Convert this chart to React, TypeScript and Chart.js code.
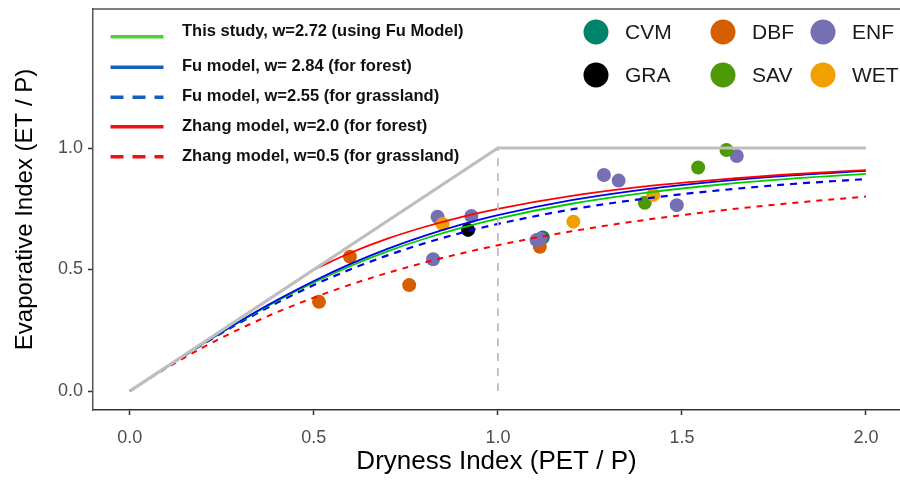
import React, { useEffect, useRef } from "react";
import { Chart, registerables } from "chart.js";

Chart.register(...registerables);

// ---- curve data ----
const curveX = [0, 0.1, 0.2, 0.3, 0.4, 0.5, 0.6, 0.7, 0.8, 0.9, 1.0, 1.2, 1.4, 1.6, 1.8, 2.0];
const thisStudyY = [0, 0.0993, 0.1954, 0.2863, 0.3704, 0.4467, 0.5147, 0.5746, 0.6266, 0.6713, 0.7098, 0.7707, 0.8155, 0.8488, 0.874, 0.8933];
const fuForestY = [0, 0.0995, 0.1964, 0.2886, 0.3745, 0.4529, 0.523, 0.5848, 0.6383, 0.6843, 0.7236, 0.7853, 0.8301, 0.8628, 0.8873, 0.9058];
const fuGrassY = [0, 0.0989, 0.1936, 0.2821, 0.3631, 0.4362, 0.5011, 0.5581, 0.6077, 0.6506, 0.6876, 0.7472, 0.7918, 0.8257, 0.8519, 0.8724];
const zhangForestX = [0.5, 0.6, 0.7, 0.8, 0.9, 1.0, 1.2, 1.4, 1.6, 1.8, 2.0];
const zhangForestY = [0.5, 0.569, 0.627, 0.675, 0.716, 0.75, 0.803, 0.842, 0.87, 0.892, 0.909];
const zhangGrassY = [0, 0.095, 0.1803, 0.2565, 0.3243, 0.3846, 0.4382, 0.4859, 0.5283, 0.5662, 0.6, 0.6575, 0.7041, 0.7423, 0.7738, 0.8];
const limitX = [0, 1, 2];
const limitY = [0, 1, 1];
const dividerX = [1, 1];
const dividerY = [0, 1];

// ---- site data ----
const groups = ["CVM", "DBF", "ENF", "GRA", "SAV", "WET"];
const groupColors = ["#00836A", "#D55E00", "#7570B3", "#000000", "#4E9A06", "#F0A000"];
const cvmX = [1.122];
const cvmY = [0.632];
const dbfX = [0.514, 0.598, 0.759, 1.114];
const dbfY = [0.367, 0.553, 0.436, 0.594];
const enfX = [0.836, 0.824, 0.928, 1.105, 1.116, 1.288, 1.328, 1.486, 1.649];
const enfY = [0.717, 0.542, 0.72, 0.621, 0.627, 0.889, 0.866, 0.765, 0.967];
const graX = [0.919];
const graY = [0.663];
const savX = [1.399, 1.544, 1.621];
const savY = [0.775, 0.92, 0.992];
const wetX = [0.85, 1.205, 1.422];
const wetY = [0.687, 0.697, 0.807];

const xTicks = [0, 0.5, 1.0, 1.5, 2.0];
const yTicks = [0, 0.5, 1.0];

const modelLabels = [
  "This study, w=2.72 (using Fu Model)",
  "Fu model, w= 2.84 (for forest)",
  "Fu model, w=2.55 (for grassland)",
  "Zhang model, w=2.0 (for forest)",
  "Zhang model, w=0.5 (for grassland)",
];
const modelLegendColors = ["#4CD137", "#1560BD", "#1560BD", "#F01010", "#F01010"];
const modelLegendDashed = [false, false, true, false, true];

const pts = (xs: number[], ys: number[]) => xs.map((x, i) => ({ x, y: ys[i] }));

const legendPlugin = {
  id: "customLegends",
  afterDraw(chart: any) {
    const ctx = chart.ctx as CanvasRenderingContext2D;
    const area = chart.chartArea;
    ctx.save();
    // top border of panel
    ctx.strokeStyle = "#555555";
    ctx.lineWidth = 1.5;
    ctx.beginPath();
    ctx.moveTo(area.left, area.top);
    ctx.lineTo(area.right, area.top);
    ctx.stroke();

    // left legend (models)
    const lineYs = [36.7, 67.3, 97.3, 126.7, 156.7];
    const textYs = [31.7, 66.7, 96.7, 126.7, 156.7];
    ctx.font = "bold 16.5px 'Liberation Sans', Arial, sans-serif";
    ctx.textBaseline = "middle";
    ctx.textAlign = "left";
    modelLabels.forEach((lab, i) => {
      ctx.strokeStyle = modelLegendColors[i];
      ctx.lineWidth = 3.5;
      ctx.setLineDash(modelLegendDashed[i] ? [13, 9] : []);
      ctx.beginPath();
      ctx.moveTo(110.5, lineYs[i]);
      ctx.lineTo(163.5, lineYs[i]);
      ctx.stroke();
      ctx.setLineDash([]);
      ctx.fillStyle = "#111111";
      ctx.fillText(lab, 182, textYs[i]);
    });

    // right legend (site groups)
    const colX = [596, 723, 823];
    const rowY = [32, 75];
    ctx.font = "21px 'Liberation Sans', Arial, sans-serif";
    groups.forEach((g, i) => {
      const cx = colX[i % 3];
      const cy = rowY[Math.floor(i / 3)];
      ctx.fillStyle = groupColors[i];
      ctx.beginPath();
      ctx.arc(cx, cy, 12.5, 0, Math.PI * 2);
      ctx.fill();
      ctx.fillStyle = "#1a1a1a";
      ctx.fillText(g, cx + 29, cy + 1);
    });
    ctx.restore();
  },
};

const zeroPad = (s: any) => {
  s.paddingTop = 0;
  s.paddingBottom = 0;
  s.paddingLeft = 0;
  s.paddingRight = 0;
};

export default function App() {
  const ref = useRef<HTMLCanvasElement | null>(null);

  useEffect(() => {
    if (!ref.current) return;
    const scatterSets = [
      [cvmX, cvmY],
      [dbfX, dbfY],
      [enfX, enfY],
      [graX, graY],
      [savX, savY],
      [wetX, wetY],
    ].map(([xs, ys], i) => ({
      label: groups[i],
      data: pts(xs, ys),
      backgroundColor: groupColors[i],
      borderColor: groupColors[i],
      borderWidth: 0,
      pointRadius: 7,
      showLine: false,
      order: 20 - i,
    }));

    const lineBase = {
      showLine: true,
      pointRadius: 0,
      fill: false,
      cubicInterpolationMode: "monotone" as const,
    };

    const chart = new Chart(ref.current, {
      type: "scatter",
      data: {
        datasets: [
          ...scatterSets,
          {
            ...lineBase,
            label: "limit",
            data: pts(limitX, limitY),
            borderColor: "#BEBEBE",
            borderWidth: 3.2,
            tension: 0,
            cubicInterpolationMode: "default" as const,
            order: 1,
          },
          {
            ...lineBase,
            label: "divider",
            data: pts(dividerX, dividerY),
            borderColor: "#BEBEBE",
            borderWidth: 1.8,
            borderDash: [8, 7],
            order: 2,
          },
          {
            ...lineBase,
            label: modelLabels[4],
            data: pts(curveX, zhangGrassY),
            borderColor: "#FF0000",
            borderWidth: 2,
            borderDash: [6, 6],
            order: 7,
          },
          {
            ...lineBase,
            label: modelLabels[2],
            data: pts(curveX, fuGrassY),
            borderColor: "#0000EE",
            borderWidth: 2.2,
            borderDash: [7, 6],
            order: 6,
          },
          {
            ...lineBase,
            label: modelLabels[0],
            data: pts(curveX, thisStudyY),
            borderColor: "#00CC00",
            borderWidth: 1.8,
            order: 5,
          },
          {
            ...lineBase,
            label: modelLabels[1],
            data: pts(curveX, fuForestY),
            borderColor: "#0000EE",
            borderWidth: 1.8,
            order: 4,
          },
          {
            ...lineBase,
            label: modelLabels[3],
            data: pts(zhangForestX, zhangForestY),
            borderColor: "#FF0000",
            borderWidth: 1.8,
            order: 3,
          },
        ],
      },
      options: {
        responsive: false,
        animation: false,
        devicePixelRatio: 1,
        layout: { autoPadding: false, padding: { top: 9, right: 0, left: 0, bottom: 0 } },
        plugins: {
          legend: { display: false },
          tooltip: { enabled: false },
        },
        scales: {
          x: {
            type: "linear",
            min: -0.1,
            max: 2.0924,
            afterBuildTicks: (s: any) => {
              s.ticks = xTicks.map((v) => ({ value: v }));
            },
            afterFit: (s: any) => {
              s.height = 72;
              zeroPad(s);
            },
            ticks: {
              callback: (v: any) => Number(v).toFixed(1),
              font: { size: 18, family: "'Liberation Sans', Arial, sans-serif" },
              color: "#4D4D4D",
              padding: 12,
              maxRotation: 0,
            },
            grid: {
              display: true,
              drawOnChartArea: false,
              drawTicks: true,
              tickLength: 5,
              tickColor: "#333333",
              tickWidth: 1.5,
            },
            border: { display: true, color: "#333333", width: 1.5 },
            title: {
              display: true,
              text: "Dryness Index (PET / P)",
              font: { size: 26, family: "'Liberation Sans', Arial, sans-serif" },
              color: "#000000",
              padding: { top: 0, bottom: 5 },
            },
          },
          y: {
            type: "linear",
            min: -0.078,
            max: 1.572,
            afterBuildTicks: (s: any) => {
              s.ticks = yTicks.map((v) => ({ value: v }));
            },
            afterFit: (s: any) => {
              s.width = 93;
              zeroPad(s);
            },
            ticks: {
              callback: (v: any) => Number(v).toFixed(1),
              font: { size: 18, family: "'Liberation Sans', Arial, sans-serif" },
              color: "#4D4D4D",
              padding: 5,
            },
            grid: {
              display: true,
              drawOnChartArea: false,
              drawTicks: true,
              tickLength: 5,
              tickColor: "#333333",
              tickWidth: 1.5,
            },
            border: { display: true, color: "#555555", width: 1.5 },
            title: {
              display: true,
              text: "Evaporative Index (ET / P)",
              font: { size: 24, family: "'Liberation Sans', Arial, sans-serif" },
              color: "#000000",
              padding: { top: 11, bottom: 0 },
            },
          },
        },
      },
      plugins: [legendPlugin],
    } as any);

    return () => chart.destroy();
  }, []);

  return (
    <div style={{ position: "absolute", left: 0, top: 0, width: 900, height: 482, background: "#ffffff" }}>
      <canvas ref={ref} width={900} height={482} style={{ display: "block", width: 900, height: 482 }} />
    </div>
  );
}
